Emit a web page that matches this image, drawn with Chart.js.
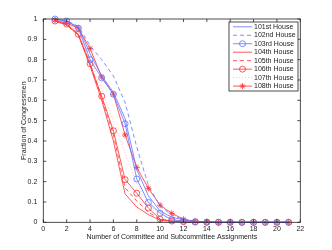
<!DOCTYPE html>
<html>
<head>
<meta charset="utf-8">
<script src="https://cdn.jsdelivr.net/npm/chart.js@4/dist/chart.umd.min.js"></script>
<style>
html, body { margin:0; padding:0; background:#fff; }
</style>
</head>
<body>
<canvas id="myChart" width="332" height="250"></canvas>
<script>
// number of assignments (x)
var counts = [1, 2, 3, 4, 5, 6, 7, 8, 9, 10, 11, 12, 13, 14, 15, 16, 17, 18, 19, 20, 21];

// fraction of congressmen with at least that many assignments
var h101 = [1.0, 0.99, 0.96, 0.83, 0.72, 0.64, 0.51, 0.26, 0.13, 0.055, 0.025, 0.012, 0.005, 0.002, 0, 0, 0, 0, 0, 0, 0];
var h102 = [1.0, 0.99, 0.965, 0.87, 0.80, 0.72, 0.59, 0.37, 0.18, 0.08, 0.035, 0.015, 0.006, 0.002, 0, 0, 0, 0, 0, 0, 0];
var h103 = [1.0, 0.99, 0.955, 0.80, 0.71, 0.63, 0.485, 0.213, 0.098, 0.045, 0.012, 0.006, 0.003, 0.001, 0, 0, 0, 0, 0, 0, 0];
var h104 = [0.99, 0.97, 0.92, 0.77, 0.60, 0.40, 0.14, 0.075, 0.038, 0.01, 0.004, 0.001, 0, 0, 0, 0, 0, 0, 0, 0, 0];
var h105 = [0.99, 0.975, 0.925, 0.78, 0.61, 0.43, 0.17, 0.105, 0.05, 0.015, 0.006, 0.002, 0, 0, 0, 0, 0, 0, 0, 0, 0];
var h106 = [0.99, 0.975, 0.925, 0.78, 0.62, 0.45, 0.21, 0.143, 0.07, 0.015, 0.006, 0.003, 0.001, 0, 0, 0, 0, 0, 0, 0, 0];
var h107 = [0.99, 0.98, 0.94, 0.81, 0.65, 0.50, 0.34, 0.19, 0.09, 0.04, 0.015, 0.006, 0.002, 0, 0, 0, 0, 0, 0, 0, 0];
var h108 = [0.995, 0.98, 0.955, 0.855, 0.715, 0.63, 0.43, 0.27, 0.167, 0.084, 0.044, 0.015, 0.005, 0.002, 0, 0, 0, 0, 0, 0, 0];

var houseNames = ['101st House', '102nd House', '103rd House', '104th House',
                  '105th House', '106th House', '107th House', '108th House'];
var xTicks = [0, 2, 4, 6, 8, 10, 12, 14, 16, 18, 20, 22];
var yTicks = [0, 0.1, 0.2, 0.3, 0.4, 0.5, 0.6, 0.7, 0.8, 0.9, 1];

var BLUE = 'rgb(95,115,255)';
var RED = 'rgb(255,45,45)';
var PINK = 'rgba(255,90,90,0.5)';
var FONT = 'Liberation Sans';

function pts(vals){
	return counts.map(function(c, i){ return { x : c, y : vals[i] }; });
}

function ds(name, vals, color, dash, marker){
	return {
		label : name,
		data : pts(vals),
		borderColor : color,
		backgroundColor : 'rgba(0,0,0,0)',
		borderWidth : 0.8,
		borderDash : dash,
		pointStyle : marker || 'circle',
		pointRadius : marker ? 3 : 0,
		pointBorderWidth : 0.8,
		pointBackgroundColor : 'rgba(0,0,0,0)',
		pointBorderColor : color,
		tension : 0,
		clip : 6
	};
}

var datasets = [
	ds(houseNames[0], h101, BLUE, []),
	ds(houseNames[1], h102, BLUE, [4, 3]),
	ds(houseNames[2], h103, BLUE, [], 'circle'),
	ds(houseNames[3], h104, RED, []),
	ds(houseNames[4], h105, RED, [4, 3]),
	ds(houseNames[5], h106, RED, [], 'circle'),
	ds(houseNames[6], h107, PINK, [1, 2]),
	ds(houseNames[7], h108, RED, [], 'star')
];

// box + inward ticks, matlab style
var boxPlugin = {
	id : 'boxTicks',
	afterDraw : function(chart){
		var c = chart.ctx, a = chart.chartArea;
		var xs = chart.scales.x, ys = chart.scales.y;
		c.save();
		c.strokeStyle = '#222';
		c.lineWidth = 0.8;
		c.strokeRect(a.left, a.top, a.right - a.left, a.bottom - a.top);
		c.beginPath();
		xTicks.forEach(function(t){
			var px = xs.getPixelForValue(t);
			c.moveTo(px, a.bottom); c.lineTo(px, a.bottom - 3);
			c.moveTo(px, a.top); c.lineTo(px, a.top + 3);
		});
		yTicks.forEach(function(t){
			var py = ys.getPixelForValue(t);
			c.moveTo(a.left, py); c.lineTo(a.left + 3, py);
			c.moveTo(a.right, py); c.lineTo(a.right - 3, py);
		});
		c.stroke();
		c.restore();
	}
};

// legend box in upper right of the axes
var legendPlugin = {
	id : 'boxLegend',
	afterDraw : function(chart){
		var c = chart.ctx;
		var bx = 229, by = 22, bw = 69, bh = 69;
		c.save();
		c.fillStyle = '#fff';
		c.fillRect(bx, by, bw, bh);
		c.strokeStyle = '#222';
		c.lineWidth = 0.8;
		c.strokeRect(bx, by, bw, bh);
		c.font = '7px "' + FONT + '"';
		c.textBaseline = 'middle';
		datasets.forEach(function(d, i){
			var y = by + 4.8 + i * 8.47;
			c.strokeStyle = d.borderColor;
			c.lineWidth = d.borderWidth;
			c.setLineDash(d.borderDash);
			c.beginPath();
			c.moveTo(233, y); c.lineTo(252, y);
			c.stroke();
			c.setLineDash([]);
			if(d.pointRadius > 0){
				c.fillStyle = 'rgba(0,0,0,0)';
				Chart.helpers.drawPoint(c, {
					pointStyle : d.pointStyle,
					radius : 3,
					borderWidth : 0.8
				}, 242.5, y);
			}
			c.fillStyle = '#222';
			c.fillText(d.label, 254, y);
		});
		c.restore();
	}
};

var ctx = document.getElementById('myChart');
var myChart = new Chart(ctx, {
	type : 'line',
	data : { datasets : datasets },
	plugins : [boxPlugin, legendPlugin],
	options : {
		responsive : false,
		animation : false,
		layout : { padding : { left : 0, top : 19, right : 31.7, bottom : 0 } },
		plugins : { legend : { display : false }, tooltip : { enabled : false } },
		scales : {
			x : {
				type : 'linear',
				min : 0, max : 22,
				afterFit : function(s){ s.height = 27.7; },
				afterBuildTicks : function(s){ s.ticks = xTicks.map(function(v){ return { value : v }; }); },
				grid : { display : false, drawTicks : false },
				border : { display : false },
				ticks : { color : '#222', padding : 3, maxRotation : 0, font : { family : FONT, size : 7 } },
				title : { display : true, text : 'Number of Committee and Subcommittee Assignments',
					color : '#222', font : { family : FONT, size : 7 }, padding : { top : 0, bottom : 9 } }
			},
			y : {
				min : 0, max : 1,
				afterFit : function(s){ s.width = 43.3; },
				afterBuildTicks : function(s){ s.ticks = yTicks.map(function(v){ return { value : v }; }); },
				grid : { display : false, drawTicks : false },
				border : { display : false },
				ticks : { color : '#222', padding : 6, font : { family : FONT, size : 7 },
					callback : function(v){ return String(Math.round(v * 10) / 10); } },
				title : { display : true, text : 'Fraction of Congressmen',
					color : '#222', font : { family : FONT, size : 7 }, padding : { top : 20, bottom : 0 } }
			}
		}
	}
});
</script>
</body>
</html>
